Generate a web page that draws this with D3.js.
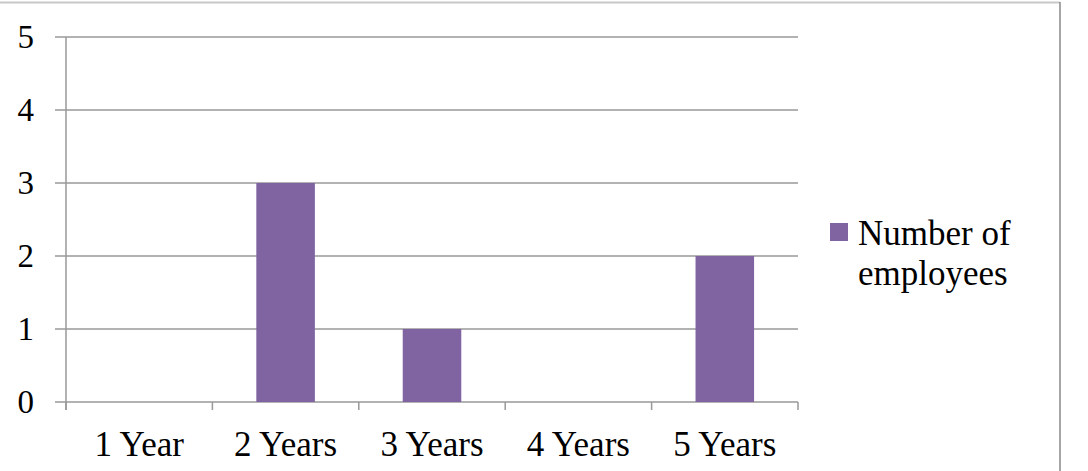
<!DOCTYPE html>
<html>
<head>
    <script src="https://d3js.org/d3.v7.min.js"></script>
    <style>
        body { margin: 0; background: #fff; }
        text { font-family: "Liberation Serif", "Times New Roman", serif; fill: #000; }
    </style>
</head>
<body>
    <div id="chart">
        <svg width="1088" height="471"></svg>
    </div>
    <script>
        var categories = ["1 Year", "2 Years", "3 Years", "4 Years", "5 Years"]
        var employees = [0, 3, 1, 0, 2]
        var yTicks = [0, 1, 2, 3, 4, 5]
        var seriesName = ["Number of", "employees"]

        var svg = d3.select("#chart svg")
        // plot box (don't use "top", it's window.top)
        var pLeft = 66, pRight = 798, pTop = 37, pBottom = 402

        // outer frame (left/bottom edges are off-picture)
        svg.append("line")
            .attr("x1", 0).attr("x2", 1060)
            .attr("y1", 2.5).attr("y2", 2.5)
            .attr("stroke", "#c8c8c8").attr("stroke-width", 2)
        svg.append("line")
            .attr("x1", 1060).attr("x2", 1060)
            .attr("y1", 2).attr("y2", 471)
            .attr("stroke", "#888").attr("stroke-width", 1.5)

        var x = d3.scaleBand()
            .domain(categories)
            .range([pLeft, pRight])
            .paddingInner(0.6)
            .paddingOuter(0.3)
        var y = d3.scaleLinear().domain([0, 5]).range([pBottom, pTop])
        var step = (pRight - pLeft) / categories.length

        // gridlines + y ticks
        svg.selectAll(".grid")
            .data(yTicks)
            .enter()
            .append("line")
            .attr("x1", pLeft - 11)
            .attr("x2", pRight)
            .attr("y1", function(d) { return y(d) })
            .attr("y2", function(d) { return y(d) })
            .attr("stroke", "#999")
            .attr("stroke-width", 1.5)

        svg.selectAll(".ylab")
            .data(yTicks)
            .enter()
            .append("text")
            .attr("x", 34)
            .attr("y", function(d) { return y(d) })
            .attr("dy", "0.33em")
            .attr("text-anchor", "end")
            .style("font-size", "33px")
            .text(function(d) { return d })

        // bars
        svg.selectAll(".bar")
            .data(employees)
            .enter()
            .append("rect")
            .attr("x", function(d, i) { return x(categories[i]) })
            .attr("width", x.bandwidth())
            .attr("y", function(d) { return y(d) })
            .attr("height", function(d) { return y(0) - y(d) })
            .attr("fill", "#8064a2")

        // y axis line
        svg.append("line")
            .attr("x1", pLeft).attr("x2", pLeft)
            .attr("y1", pTop).attr("y2", pBottom + 8)
            .attr("stroke", "#999").attr("stroke-width", 1.5)

        // x tick marks
        svg.selectAll(".xtick")
            .data(d3.range(categories.length + 1))
            .enter()
            .append("line")
            .attr("x1", function(d) { return pLeft + d * step })
            .attr("x2", function(d) { return pLeft + d * step })
            .attr("y1", pBottom)
            .attr("y2", pBottom + 8)
            .attr("stroke", "#999").attr("stroke-width", 1.5)

        svg.selectAll(".xlab")
            .data(categories)
            .enter()
            .append("text")
            .attr("x", function(d) { return x(d) + x.bandwidth() / 2 })
            .attr("y", 456)
            .attr("text-anchor", "middle")
            .style("font-size", "35px")
            .text(function(d) { return d })

        // legend
        svg.append("rect")
            .attr("x", 830).attr("y", 223)
            .attr("width", 18).attr("height", 18)
            .attr("fill", "#8064a2")
        svg.selectAll(".leg")
            .data(seriesName)
            .enter()
            .append("text")
            .attr("x", 858)
            .attr("y", function(d, i) { return 245 + i * 40 })
            .style("font-size", "35px")
            .text(function(d) { return d })
    </script>
</body>
</html>
